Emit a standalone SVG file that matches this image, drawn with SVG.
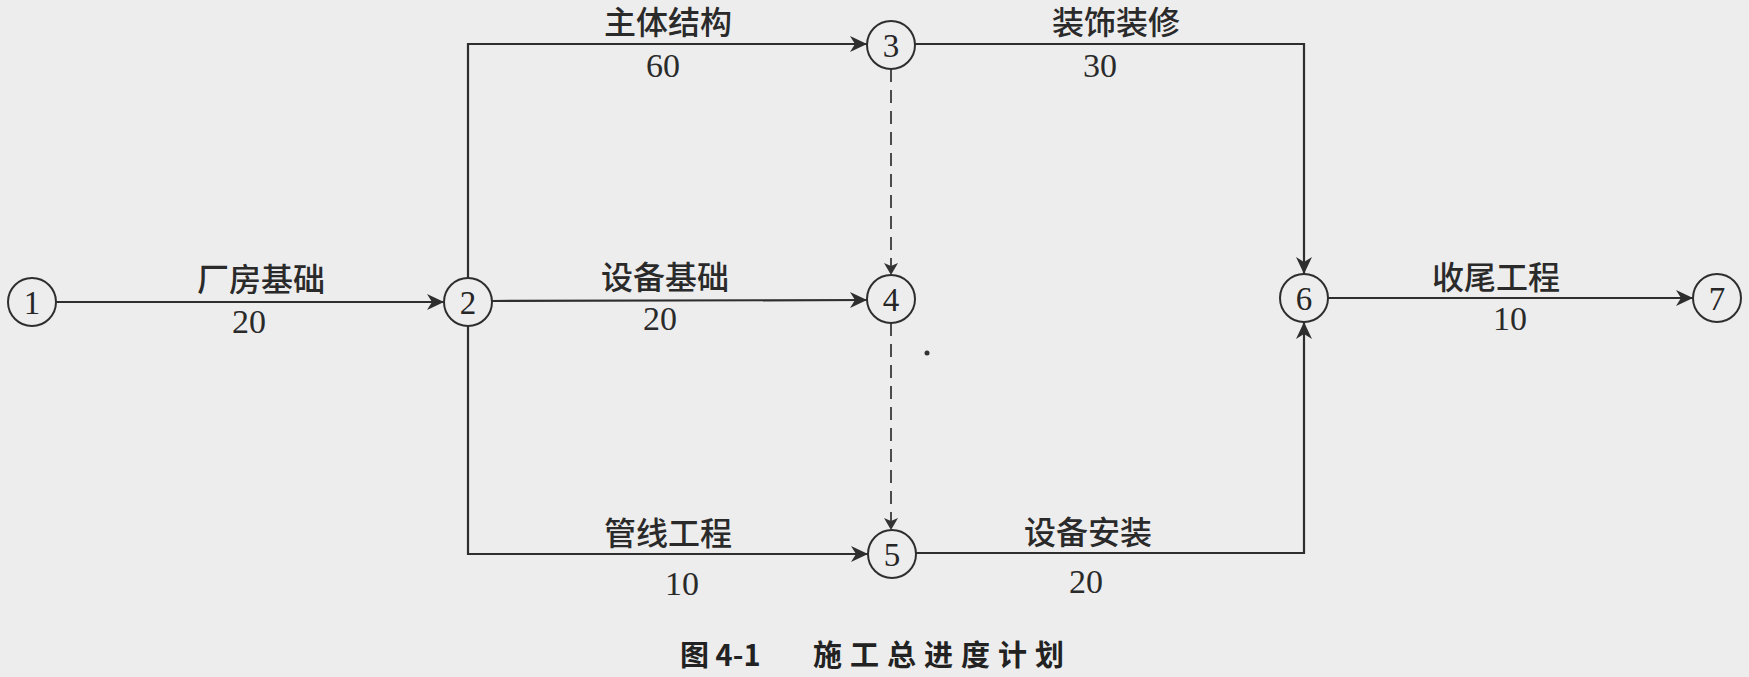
<svg xmlns="http://www.w3.org/2000/svg" width="1749" height="677" viewBox="0 0 1749 677">
<style>
.bg{fill:#ededed}
.ln{fill:none;stroke:#2e2e2e;stroke-width:2.2}
.dash{fill:none;stroke:#3a3a3a;stroke-width:1.8;stroke-dasharray:13 8}
.nd circle{fill:#ededed;stroke:#2e2e2e;stroke-width:2}
.nd text{font-family:"Liberation Serif","DejaVu Serif",serif;font-size:33px;fill:#262626;text-anchor:middle}
.lb{font-family:"Noto Sans CJK SC","Noto Sans",sans-serif;font-size:32px;font-weight:500;fill:#2a2a2a;text-anchor:middle}
.num{font-family:"Liberation Serif","DejaVu Serif",serif;font-size:34px;fill:#2a2a2a;text-anchor:middle}
.cap{font-family:"Noto Sans CJK SC","Noto Sans",sans-serif;font-size:29px;font-weight:bold;fill:#222}
</style>
<defs>
<marker id="ah" markerUnits="userSpaceOnUse" markerWidth="20" markerHeight="20" refX="0" refY="0" viewBox="-18 -10 20 20" orient="auto">
<path d="M0,0 L-17,-8 L-12,0 L-17,8 Z" fill="#2e2e2e"/>
</marker>
<marker id="ahs" markerUnits="userSpaceOnUse" markerWidth="20" markerHeight="20" refX="0" refY="0" viewBox="-18 -10 20 20" orient="auto">
<path d="M0,0 L-12,-7 L-9,0 L-12,7 Z" fill="#333"/>
</marker>
</defs>
<rect class="bg" x="0" y="0" width="1749" height="677"/>
<g id="connectors">
<path class="ln" d="M56,302 L444,302" marker-end="url(#ah)"/>
<path class="ln" d="M468,278 L468,44 L867,44" marker-end="url(#ah)"/>
<path class="ln" d="M915,44 L1304,44 L1304,274" marker-end="url(#ah)"/>
<path class="ln" d="M492,301 L867,300" marker-end="url(#ah)"/>
<path class="ln" d="M468,326 L468,554 L868,554" marker-end="url(#ah)"/>
<path class="ln" d="M916,553 L1304,553 L1304,322" marker-end="url(#ah)"/>
<path class="ln" d="M1328,298 L1693,298" marker-end="url(#ah)"/>
<path class="dash" d="M891,69 L891,275" marker-end="url(#ahs)"/>
<path class="dash" d="M891,323 L891,530" marker-end="url(#ahs)"/>
</g>
<g id="labels">
<text class="lb" x="261" y="291">厂房基础</text>
<text class="num" x="249" y="333">20</text>
<text class="lb" x="668" y="34">主体结构</text>
<text class="num" x="663" y="77">60</text>
<text class="lb" x="1116" y="34">装饰装修</text>
<text class="num" x="1100" y="77">30</text>
<text class="lb" x="665" y="289">设备基础</text>
<text class="num" x="660" y="330">20</text>
<text class="lb" x="668" y="545">管线工程</text>
<text class="num" x="682" y="595">10</text>
<text class="lb" x="1088" y="544">设备安装</text>
<text class="num" x="1086" y="593">20</text>
<text class="lb" x="1496" y="289">收尾工程</text>
<text class="num" x="1510" y="330">10</text>
</g>
<g id="node1" class="nd"><circle cx="32" cy="302" r="24"/><text x="32" y="314">1</text></g>
<g id="node2" class="nd"><circle cx="468" cy="302" r="24"/><text x="468" y="314">2</text></g>
<g id="node3" class="nd"><circle cx="891" cy="45" r="24"/><text x="891" y="57">3</text></g>
<g id="node4" class="nd"><circle cx="891" cy="299" r="24"/><text x="891" y="311">4</text></g>
<g id="node5" class="nd"><circle cx="892" cy="554" r="24"/><text x="892" y="566">5</text></g>
<g id="node6" class="nd"><circle cx="1304" cy="298" r="24"/><text x="1304" y="310">6</text></g>
<g id="node7" class="nd"><circle cx="1717" cy="298" r="24"/><text x="1717" y="310">7</text></g>
<circle cx="927" cy="353" r="2.5" fill="#333"/>
<g id="caption">
<text class="cap" x="680" y="666">图 4-1</text>
<text class="cap" x="813" y="666" letter-spacing="8">施工总进度计划</text>
</g>
</svg>
